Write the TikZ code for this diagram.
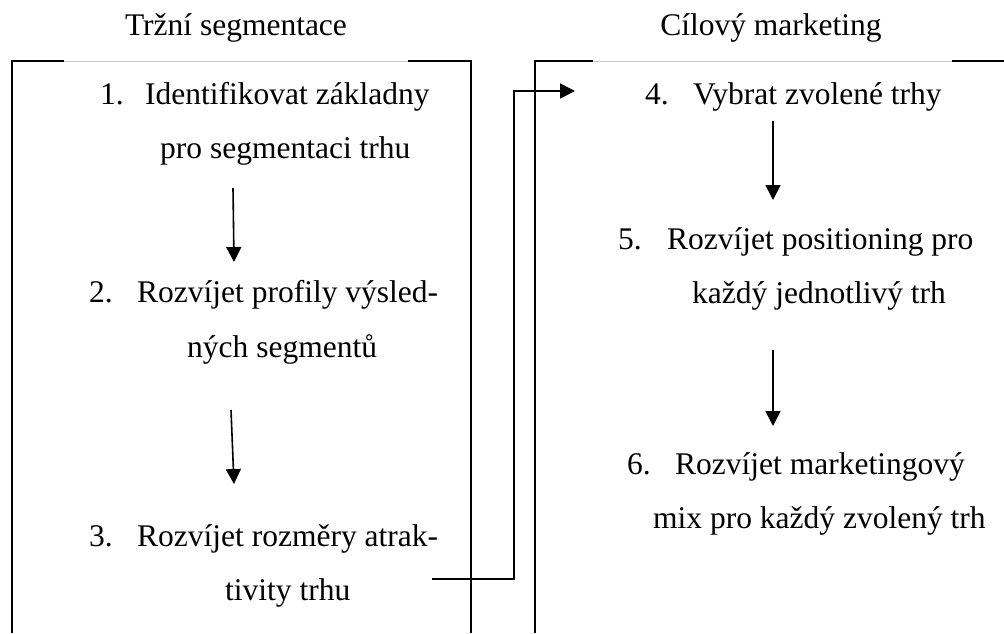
\documentclass[tikz,border=0pt]{standalone}
\usepackage{fontspec}
\setmainfont{Liberation Serif}
\usetikzlibrary{arrows.meta}
\begin{document}
\begin{tikzpicture}[x=1pt,y=-1pt,
  txt/.style={anchor=base west,inner sep=0pt,font=\fontsize{31.5}{38}\selectfont},
  ttl/.style={anchor=base,inner sep=0pt,font=\fontsize{31.5}{38}\selectfont},
  frame/.style={line width=1.8pt},
  faint/.style={line width=0.6pt,black!22},
  flow/.style={line width=1.6pt,-{Triangle[width=15pt,length=15pt]}}]
\useasboundingbox (0,0) rectangle (1004,633);

% section titles
\node[ttl] (tl) at (236,35) {Tržní segmentace};
\node[ttl] (tr) at (771,35) {Cílový marketing};

% left frame, open at the bottom
\draw[frame] (12,633) -- (12,61) -- (64,61);
\draw[frame] (408,61) -- (471,61) -- (471,633);
\draw[faint] (64,61) -- (408,61);

% right frame, running off the right edge
\draw[frame] (535,633) -- (535,61) -- (593,61);
\draw[frame] (952,61) -- (1004,61);
\draw[faint] (593,61) -- (952,61);

% steps 1--3
\node[txt] (n1) at (100,104) {1.};
\node[txt] (s1a) at (145,104) {Identifikovat základny};
\node[txt] (s1b) at (160,158) {pro segmentaci trhu};
\node[txt] (n2) at (89,302) {2.};
\node[txt] (s2a) at (137,302) {Rozvíjet profily výsled-};
\node[txt] (s2b) at (187,357) {ných segmentů};
\node[txt] (n3) at (89,546) {3.};
\node[txt] (s3a) at (137,546) {Rozvíjet rozměry atrak-};
\node[txt] (s3b) at (225,600) {tivity trhu};

% steps 4--6
\node[txt] (n4) at (645,104) {4.};
\node[txt] (s4a) at (693,104) {Vybrat zvolené trhy};
\node[txt] (n5) at (618,249) {5.};
\node[txt] (s5a) at (667,249) {Rozvíjet positioning pro};
\node[txt] (s5b) at (692,303) {každý jednotlivý trh};
\node[txt] (n6) at (627,474) {6.};
\node[txt] (s6a) at (675,474) {Rozvíjet marketingový};
\node[txt] (s6b) at (653,528) {mix pro každý zvolený trh};

% arrow end points
\coordinate (a1) at (233,188);
\coordinate (b1) at (234,262);
\coordinate (a2) at (231,410);
\coordinate (b2) at (234,484);
\coordinate (a4) at (773,121);
\coordinate (b4) at (773,200);
\coordinate (a5) at (773,350);
\coordinate (b5) at (773,426);
\coordinate (c3) at (432,579);
\coordinate (c4) at (575,91);

\draw[flow] (a1) -- (b1);
\draw[flow] (a2) -- (b2);
\draw[flow] (a4) -- (b4);
\draw[flow] (a5) -- (b5);
\draw[flow] (c3) -- (514,579) |- (c4);
\end{tikzpicture}
\end{document}
